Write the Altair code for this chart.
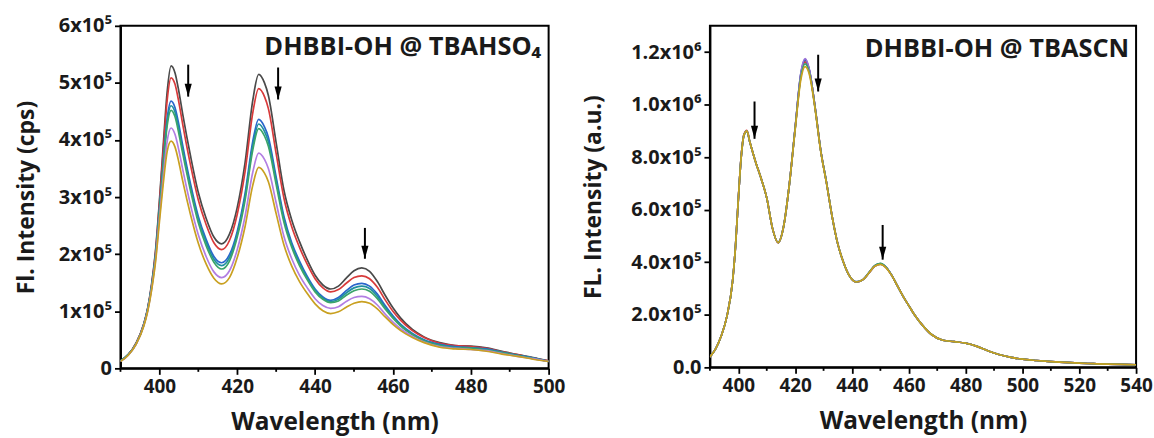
import altair as alt
import pandas as pd

# ---------------- Left panel: DHBBI-OH @ TBAHSO4 (values in 1e5 cps) ----------------
WL_L = [390, 392, 394, 396, 397, 398, 399, 400, 401, 402, 403, 404, 405, 406, 408, 410,
        412, 414, 416, 418, 420, 422, 424, 425.5, 427, 428, 430, 432, 434, 436, 438, 440,
        442, 444, 446, 448, 450, 452, 454, 456, 458, 460, 462, 465, 468, 472, 476, 480,
        484, 488, 492, 496, 500]

L_BLACK = [0.13, 0.24, 0.44, 0.78, 1.06, 1.48, 2.06, 2.93, 3.92, 4.85, 5.30, 5.18, 4.85, 4.45, 3.72, 3.08,
           2.63, 2.30, 2.18, 2.35, 2.82, 3.60, 4.70, 5.15, 5.00, 4.78, 3.95, 3.12, 2.60, 2.22, 1.90, 1.63,
           1.46, 1.39, 1.44, 1.58, 1.71, 1.76, 1.70, 1.52, 1.28, 1.06, 0.88, 0.68, 0.55, 0.45, 0.40, 0.39,
           0.36, 0.30, 0.24, 0.19, 0.13]
L_RED = [0.13, 0.24, 0.44, 0.78, 1.05, 1.46, 2.03, 2.88, 3.82, 4.70, 5.09, 4.98, 4.66, 4.27, 3.56, 2.95,
         2.52, 2.20, 2.08, 2.24, 2.70, 3.44, 4.48, 4.90, 4.76, 4.55, 3.76, 2.98, 2.48, 2.12, 1.82, 1.57,
         1.41, 1.34, 1.38, 1.49, 1.59, 1.62, 1.57, 1.42, 1.20, 1.00, 0.84, 0.66, 0.54, 0.44, 0.40, 0.38,
         0.35, 0.29, 0.24, 0.18, 0.13]
L_BLUE = [0.13, 0.24, 0.43, 0.77, 1.04, 1.44, 1.98, 2.78, 3.62, 4.38, 4.68, 4.57, 4.27, 3.90, 3.23, 2.66,
          2.26, 1.96, 1.85, 1.99, 2.40, 3.06, 3.98, 4.36, 4.23, 4.05, 3.35, 2.66, 2.20, 1.88, 1.61, 1.39,
          1.25, 1.19, 1.24, 1.36, 1.46, 1.49, 1.44, 1.30, 1.10, 0.92, 0.77, 0.61, 0.50, 0.42, 0.38, 0.36,
          0.34, 0.28, 0.23, 0.18, 0.12]
L_TEAL = [0.13, 0.24, 0.43, 0.77, 1.04, 1.43, 1.97, 2.76, 3.58, 4.32, 4.60, 4.49, 4.19, 3.83, 3.17, 2.61,
          2.21, 1.91, 1.80, 1.94, 2.35, 3.00, 3.90, 4.28, 4.15, 3.97, 3.29, 2.61, 2.16, 1.84, 1.58, 1.37,
          1.23, 1.17, 1.21, 1.32, 1.41, 1.44, 1.40, 1.26, 1.07, 0.90, 0.76, 0.60, 0.49, 0.41, 0.37, 0.36,
          0.33, 0.28, 0.23, 0.18, 0.12]
L_GREEN = [0.13, 0.24, 0.43, 0.76, 1.03, 1.42, 1.95, 2.73, 3.54, 4.25, 4.52, 4.41, 4.11, 3.76, 3.11, 2.55,
           2.15, 1.86, 1.74, 1.88, 2.30, 2.94, 3.83, 4.20, 4.07, 3.89, 3.22, 2.56, 2.12, 1.80, 1.55, 1.34,
           1.21, 1.15, 1.18, 1.28, 1.36, 1.39, 1.35, 1.22, 1.04, 0.88, 0.74, 0.59, 0.48, 0.40, 0.36, 0.35,
           0.32, 0.27, 0.22, 0.17, 0.12]
L_PURPLE = [0.12, 0.23, 0.42, 0.75, 1.01, 1.39, 1.90, 2.63, 3.36, 3.98, 4.21, 4.10, 3.82, 3.48, 2.86, 2.34,
            1.96, 1.69, 1.59, 1.71, 2.08, 2.66, 3.44, 3.77, 3.66, 3.50, 2.90, 2.31, 1.92, 1.63, 1.41, 1.22,
            1.10, 1.05, 1.08, 1.17, 1.24, 1.26, 1.22, 1.11, 0.95, 0.81, 0.69, 0.56, 0.46, 0.38, 0.35, 0.33,
            0.31, 0.26, 0.21, 0.17, 0.12]
L_GOLD = [0.12, 0.23, 0.42, 0.74, 1.00, 1.37, 1.86, 2.56, 3.24, 3.80, 3.98, 3.88, 3.61, 3.28, 2.69, 2.19,
          1.83, 1.58, 1.48, 1.59, 1.94, 2.48, 3.21, 3.52, 3.42, 3.27, 2.71, 2.16, 1.79, 1.52, 1.31, 1.13,
          1.01, 0.96, 0.99, 1.07, 1.14, 1.17, 1.14, 1.04, 0.90, 0.77, 0.66, 0.54, 0.45, 0.37, 0.34, 0.33,
          0.30, 0.25, 0.21, 0.16, 0.12]

NAMES_L = ["s1", "s2", "s3", "s4", "s5", "s6", "s7"]
SERIES_L = [L_BLACK, L_RED, L_BLUE, L_TEAL, L_GREEN, L_PURPLE, L_GOLD]
COLORS_L = ["#4a4a4a", "#d83a3a", "#2a66cc", "#1f8fa0", "#3aa46a", "#b27ee2", "#c9a020"]

# arrows (left): x, top y, tip y
ARR_L_X = [407.4, 430.5, 452.8]
ARR_L_TOP = [5.32, 5.27, 2.46]
ARR_L_TIP = [4.76, 4.71, 1.92]

# axis ticks (left)
XMAJ_L = [400, 420, 440, 460, 480, 500]
XMIN_L = [390, 410, 430, 450, 470, 490]

# ---------------- Right panel: DHBBI-OH @ TBASCN (values in 1e5 a.u.) ----------------
WL_R = [390, 392, 394, 396, 398, 399, 400, 401, 402, 403, 404, 406, 408, 410, 412, 414, 416,
        418, 420, 422, 423.5, 425, 427, 429, 431, 433, 435, 437, 439, 441.5, 444, 446, 448,
        450, 452, 454, 456, 458, 460, 462, 465, 468, 472, 476, 480, 484, 488, 492, 496,
        500, 505, 510, 515, 520, 525, 530, 535, 540]

R_BLACK = [0.40, 0.70, 1.20, 1.95, 3.30, 4.60, 6.40, 8.00, 8.85, 9.00, 8.60, 7.85, 7.20, 6.45, 5.30, 4.75, 5.40,
           7.00, 9.10, 11.15, 11.68, 11.30, 9.90, 8.25, 7.05, 5.75, 4.70, 4.00, 3.50, 3.25, 3.35, 3.60, 3.85,
           3.93, 3.80, 3.50, 3.10, 2.70, 2.35, 2.00, 1.58, 1.25, 1.03, 0.98, 0.92, 0.80, 0.62, 0.48, 0.38,
           0.31, 0.26, 0.22, 0.19, 0.16, 0.14, 0.12, 0.11, 0.10]
R_RED = [0.40, 0.70, 1.20, 1.95, 3.30, 4.60, 6.40, 8.02, 8.87, 9.02, 8.60, 7.85, 7.20, 6.45, 5.30, 4.74, 5.40,
         7.00, 9.10, 11.10, 11.62, 11.28, 9.92, 8.27, 7.05, 5.75, 4.70, 4.00, 3.50, 3.24, 3.35, 3.60, 3.86,
         3.94, 3.80, 3.50, 3.10, 2.70, 2.35, 2.00, 1.58, 1.25, 1.03, 0.98, 0.92, 0.80, 0.62, 0.48, 0.38,
         0.31, 0.26, 0.22, 0.19, 0.16, 0.14, 0.12, 0.11, 0.10]
R_BLUE = [0.40, 0.70, 1.20, 1.95, 3.30, 4.60, 6.40, 8.00, 8.85, 9.00, 8.60, 7.85, 7.20, 6.45, 5.30, 4.76, 5.40,
          7.00, 9.12, 11.18, 11.72, 11.32, 9.92, 8.25, 7.06, 5.75, 4.70, 4.00, 3.50, 3.26, 3.35, 3.62, 3.87,
          3.95, 3.82, 3.51, 3.10, 2.70, 2.35, 2.00, 1.58, 1.25, 1.03, 0.98, 0.92, 0.80, 0.62, 0.48, 0.38,
          0.31, 0.26, 0.22, 0.19, 0.16, 0.14, 0.12, 0.11, 0.10]
R_PURPLE = [0.40, 0.70, 1.20, 1.95, 3.30, 4.60, 6.40, 8.00, 8.85, 9.00, 8.60, 7.85, 7.20, 6.45, 5.30, 4.75, 5.40,
            7.00, 9.12, 11.20, 11.75, 11.33, 9.90, 8.25, 7.05, 5.75, 4.70, 4.00, 3.50, 3.25, 3.35, 3.60, 3.85,
            3.93, 3.80, 3.50, 3.10, 2.70, 2.35, 2.00, 1.58, 1.25, 1.03, 0.98, 0.92, 0.80, 0.62, 0.48, 0.38,
            0.31, 0.26, 0.22, 0.19, 0.16, 0.14, 0.12, 0.11, 0.10]
R_GREEN = [0.40, 0.70, 1.20, 1.95, 3.30, 4.60, 6.40, 8.00, 8.84, 8.99, 8.60, 7.85, 7.20, 6.45, 5.30, 4.75, 5.40,
           7.00, 9.08, 11.05, 11.55, 11.22, 9.88, 8.25, 7.05, 5.75, 4.70, 4.00, 3.50, 3.25, 3.35, 3.61, 3.87,
           3.96, 3.81, 3.50, 3.10, 2.70, 2.35, 2.00, 1.58, 1.25, 1.03, 0.98, 0.92, 0.80, 0.62, 0.48, 0.38,
           0.31, 0.26, 0.22, 0.19, 0.16, 0.14, 0.12, 0.11, 0.10]
R_GOLD = [0.40, 0.70, 1.20, 1.95, 3.30, 4.60, 6.40, 8.00, 8.85, 9.00, 8.60, 7.85, 7.20, 6.45, 5.30, 4.75, 5.40,
          7.00, 9.05, 10.95, 11.45, 11.15, 9.85, 8.22, 7.03, 5.75, 4.70, 4.00, 3.50, 3.25, 3.35, 3.60, 3.85,
          3.92, 3.79, 3.50, 3.10, 2.70, 2.35, 2.00, 1.58, 1.25, 1.03, 0.98, 0.92, 0.80, 0.62, 0.48, 0.38,
          0.31, 0.26, 0.22, 0.19, 0.16, 0.14, 0.12, 0.11, 0.10]

NAMES_R = ["r1", "r2", "r3", "r4", "r5", "r6"]
SERIES_R = [R_BLACK, R_RED, R_BLUE, R_PURPLE, R_GREEN, R_GOLD]
COLORS_R = ["#4a4a4a", "#d83a3a", "#2a66cc", "#9b6fd6", "#3aa46a", "#c9a020"]

ARR_R_X = [405.7, 428.1, 450.8]
ARR_R_TOP = [10.12, 11.9, 5.42]
ARR_R_TIP = [8.70, 10.50, 4.10]

XMAJ_R = [400, 420, 440, 460, 480, 500, 520, 540]
XMIN_R = [390, 410, 430, 450, 470, 490, 510, 530]

TITLE_L = "DHBBI-OH @ TBAHSO\u2084"
TITLE_R = "DHBBI-OH @ TBASCN"

FONT = "Open Sans"


def long_df(wl, names, series):
    rows = []
    for k, (n, vals) in enumerate(zip(names, series)):
        for w, v in zip(wl, vals):
            rows.append({"wl": w, "v": v, "s": n, "k": k})
    return pd.DataFrame(rows)


dfL = long_df(WL_L, NAMES_L, SERIES_L)
dfR = long_df(WL_R, NAMES_R, SERIES_R)
arrL = pd.DataFrame({"x": ARR_L_X, "top": ARR_L_TOP, "tip": ARR_L_TIP})
arrR = pd.DataFrame({"x": ARR_R_X, "top": ARR_R_TOP, "tip": ARR_R_TIP})

common_axis = dict(
    domainColor="black", domainWidth=2, tickColor="black", tickWidth=1.8,
    labelFont=FONT, labelFontWeight="bold", labelColor="#1a1a1a",
    titleFont=FONT, titleFontWeight="bold", titleColor="#1a1a1a",
    grid=False, labelPadding=3, labelOverlap=False, labelBound=False, labelFlush=False,
)

xL_axis = alt.Axis(values=XMAJ_L, format="d", tickSize=6, labelFontSize=19,
                   title="Wavelength (nm)", titlePadding=14, titleFontSize=24.5, **common_axis)
yL_axis = alt.Axis(
    values=[i * 0.5 for i in range(13)], labelFontSize=20,
    labelExpr="round(datum.value*2) % 2 == 0 ? (datum.value == 0 ? '0' : datum.value + 'x10\u2075') : ''",
    tickSize={"condition": {"test": "round(datum.value*2) % 2 == 0", "value": 6}, "value": 3.5},
    title="Fl. Intensity (cps)", titlePadding=20, titleFontSize=23, **common_axis)

xR_axis = alt.Axis(values=XMAJ_R, format="d", tickSize=6, labelFontSize=19,
                   title="Wavelength (nm)", titlePadding=14, titleFontSize=24.5, **common_axis)
yR_axis = alt.Axis(
    values=list(range(0, 13)), labelFontSize=20,
    labelExpr="datum.value % 2 == 1 ? '' : (datum.value == 0 ? '0.0' : (datum.value < 10 ? format(datum.value, '.1f') + 'x10\u2075' : format(datum.value/10, '.1f') + 'x10\u2076'))",
    tickSize={"condition": {"test": "datum.value % 2 == 0", "value": 6}, "value": 3.5},
    title="FL. Intensity (a.u.)", titlePadding=25, titleFontSize=23, **common_axis)

ARROW_PATH = "M-0.55,-1 L0.55,-1 L0,1 Z"


def panel(df, arr, names, colors, xdom, ydom, xaxis, yaxis, xminor, title, tx, ty, w, h):
    xs = alt.Scale(domain=xdom, nice=False, zero=False)
    ys = alt.Scale(domain=ydom, nice=False, zero=False)
    lines = alt.Chart(df).mark_line(strokeWidth=1.7, interpolate="monotone", clip=True).encode(
        x=alt.X("wl:Q", scale=xs, axis=xaxis),
        y=alt.Y("v:Q", scale=ys, axis=yaxis),
        color=alt.Color("s:N", scale=alt.Scale(domain=names, range=colors), legend=None),
        detail="s:N",
    )
    minor = alt.Chart(pd.DataFrame({"m": xminor})).mark_rule(color="black", strokeWidth=1.8).encode(
        x=alt.X("m:Q", scale=xs), y=alt.value(h), y2=alt.value(h + 3.5))
    rule = alt.Chart(arr).mark_rule(color="black", strokeWidth=2).encode(
        x=alt.X("x:Q", scale=xs), y=alt.Y("top:Q", scale=ys), y2="tip:Q")
    head = alt.Chart(arr).mark_point(shape=ARROW_PATH, size=170, filled=True, color="black",
                                     opacity=1, yOffset=-6.5).encode(
        x=alt.X("x:Q", scale=xs), y=alt.Y("tip:Q", scale=ys))
    txt = alt.Chart(pd.DataFrame({"x": [tx], "y": [ty], "t": [title]})).mark_text(
        align="right", baseline="middle", font=FONT, fontWeight="bold", fontSize=25.5, color="#1a1a1a"
    ).encode(x=alt.X("x:Q", scale=xs), y=alt.Y("y:Q", scale=ys), text="t:N")
    return alt.layer(lines, minor, rule, head, txt).properties(width=w, height=h)


left = panel(dfL, arrL, NAMES_L, COLORS_L, [390, 500], [0, 6], xL_axis, yL_axis, XMIN_L,
             TITLE_L, 498.1, 5.62, 430, 344)
right = panel(dfR, arrR, NAMES_R, COLORS_R, [390, 540], [0, 13], xR_axis, yR_axis, XMIN_R,
              TITLE_R, 537.6, 12.12, 428, 343)

chart = alt.hconcat(left, right, spacing=15).resolve_scale(
    x="independent", y="independent", color="independent"
).properties(
    padding={"left": 14, "top": 14, "right": 0, "bottom": 0},
    background="white",
).configure_view(stroke="black", strokeWidth=2)

chart.save("out.html", embed_options={"renderer": "svg", "actions": False})
